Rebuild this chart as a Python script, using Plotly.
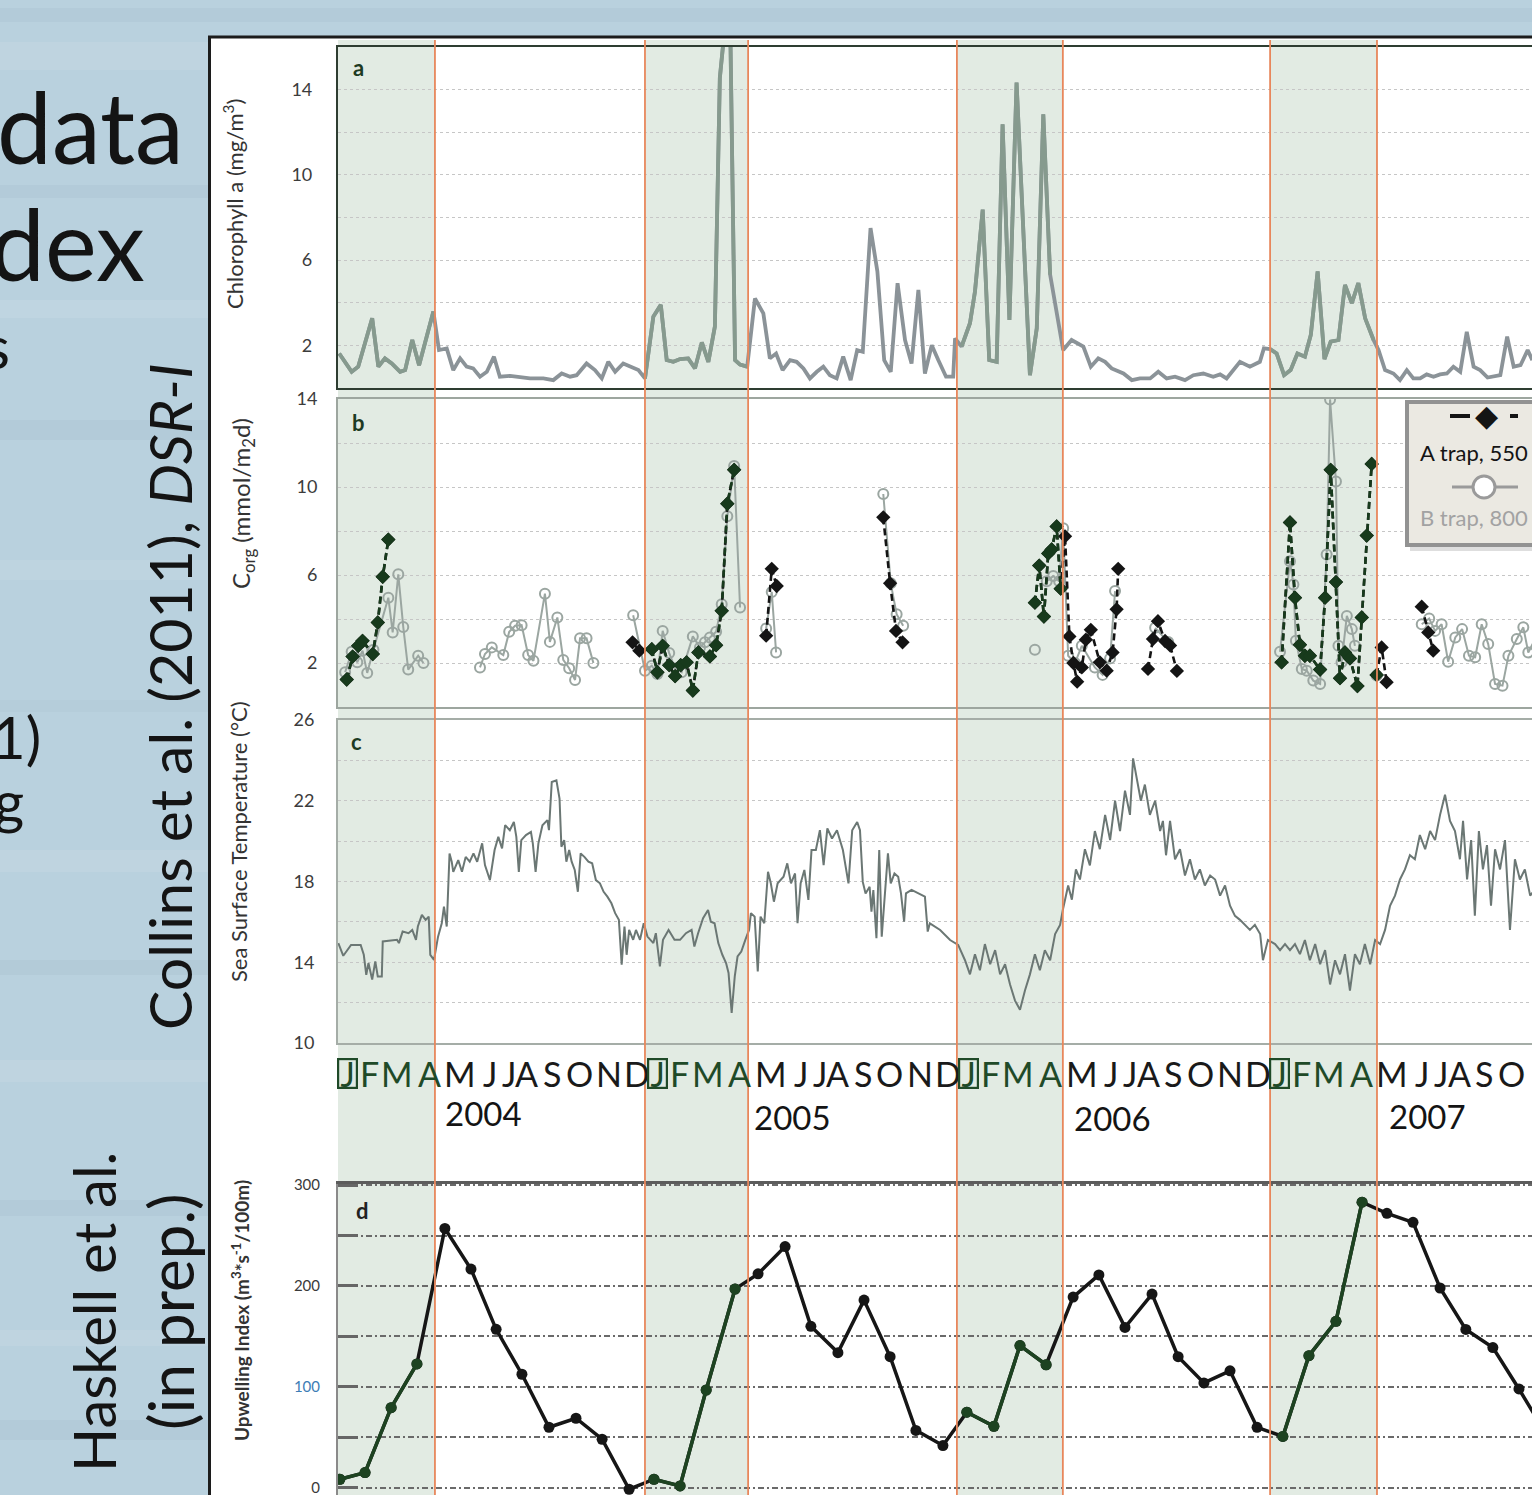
import plotly.graph_objects as go

W, H = 1532, 1495


def px(x):
    return x / W


def py(y):
    return 1 - y / H


# ---------------- data ----------------
shade_start = [2004.0, 2004.988, 2005.992, 2007.0]
shade_end = [2004.312, 2005.320, 2006.333, 2007.344]
years = [2004, 2005, 2006, 2007]
month_letters = ["J", "F", "M", "A", "M", "J", "J", "A", "S", "O", "N", "D"]

chl_t = [2004.004, 2004.044, 2004.065, 2004.110, 2004.130, 2004.151, 2004.173, 2004.200, 2004.216, 2004.239,
         2004.261, 2004.307, 2004.325, 2004.350, 2004.371, 2004.393, 2004.414, 2004.435, 2004.457, 2004.479,
         2004.502, 2004.521, 2004.554, 2004.586, 2004.618, 2004.661, 2004.693, 2004.720, 2004.747, 2004.768,
         2004.800, 2004.827, 2004.849, 2004.870, 2004.892, 2004.918, 2004.950, 2004.967, 2004.988, 2005.015,
         2005.039, 2005.058, 2005.079, 2005.101, 2005.127, 2005.149, 2005.171, 2005.192, 2005.213, 2005.229,
         2005.249, 2005.262, 2005.278, 2005.294, 2005.317, 2005.342, 2005.369, 2005.390, 2005.410, 2005.431,
         2005.455, 2005.476, 2005.498, 2005.519, 2005.541, 2005.562, 2005.583, 2005.605, 2005.626, 2005.650,
         2005.671, 2005.689, 2005.714, 2005.736, 2005.758, 2005.779, 2005.801, 2005.825, 2005.846, 2005.868,
         2005.889, 2005.911, 2005.932, 2005.957, 2005.980, 2005.986, 2006.007, 2006.034, 2006.050, 2006.075,
         2006.096, 2006.120, 2006.139, 2006.161, 2006.184, 2006.206, 2006.227, 2006.249, 2006.270, 2006.292,
         2006.334, 2006.361, 2006.399, 2006.423, 2006.447, 2006.469, 2006.490, 2006.528, 2006.555, 2006.581,
         2006.614, 2006.640, 2006.667, 2006.694, 2006.726, 2006.753, 2006.785, 2006.817, 2006.839, 2006.860,
         2006.903, 2006.935, 2006.967, 2006.980, 2007.000, 2007.021, 2007.045, 2007.066, 2007.088, 2007.112,
         2007.131, 2007.153, 2007.175, 2007.195, 2007.220, 2007.241, 2007.263, 2007.284, 2007.306, 2007.333,
         2007.349, 2007.370, 2007.397, 2007.418, 2007.440, 2007.461, 2007.483, 2007.504, 2007.526, 2007.547,
         2007.569, 2007.590, 2007.612, 2007.633, 2007.655, 2007.676, 2007.700, 2007.741, 2007.763, 2007.784,
         2007.806, 2007.829, 2007.844]
chl_v = [1.62, 0.76, 1.0, 3.27, 1.0, 1.39, 1.15, 0.76, 0.84, 2.25,
         1.07, 3.59, 1.78, 1.86, 0.84, 1.39, 1.0, 0.92, 0.53, 0.76,
         1.47, 0.53, 0.57, 0.53, 0.45, 0.45, 0.37, 0.68, 0.53, 0.6,
         1.15, 0.84, 0.45, 1.23, 0.76, 1.15, 0.92, 0.84, 0.45, 3.35,
         3.9, 1.31, 1.23, 1.36, 1.39, 0.92, 2.14, 1.23, 2.88, 14.56,
         17.5, 17.5, 1.31, 1.1, 1.0, 4.2, 3.5, 1.39, 1.62, 0.84,
         1.31, 1.23, 0.92, 0.45, 0.76, 1.0, 0.6, 0.45, 1.47, 0.37,
         1.78, 1.7, 7.5, 5.47, 1.31, 0.76, 4.92, 2.25, 1.15, 4.6,
         0.68, 2.01, 1.31, 0.53, 0.53, 2.33, 1.94, 3.04, 4.51, 8.37,
         1.31, 1.23, 12.37, 3.19, 14.33, 7.2, 0.6, 2.8, 12.84, 5.32,
         1.78, 2.25, 1.94, 1.0, 1.39, 1.23, 0.92, 0.68, 0.37, 0.45,
         0.45, 0.76, 0.45, 0.53, 0.37, 0.6, 0.68, 0.53, 0.64, 0.45,
         1.23, 1.0, 1.23, 1.86, 1.83, 1.62, 0.6, 0.84, 1.62, 1.47,
         2.49, 5.47, 1.36, 2.17, 2.25, 4.84, 3.98, 4.92, 3.27, 2.25,
         1.78, 0.84, 0.68, 0.37, 0.84, 0.45, 0.45, 0.64, 0.53, 0.64,
         0.68, 1.0, 0.76, 2.64, 1.0, 0.84, 0.49, 0.6, 2.41, 1.0,
         1.07, 1.78, 1.31]

trapA_t = [2004.028, 2004.047, 2004.065, 2004.079, 2004.112, 2004.128, 2004.144, 2004.162, None,
           2004.948, 2004.970, 2005.010, 2005.028, 2005.045, 2005.066, 2005.085, 2005.103, 2005.122, 2005.142,
           2005.160, 2005.197, 2005.217, 2005.235, 2005.253, 2005.275, None,
           2005.378, 2005.396, 2005.412, None,
           2005.755, 2005.777, 2005.796, 2005.817, None,
           2006.243, 2006.257, 2006.272, 2006.286, 2006.297, 2006.313, 2006.326, 2006.340, 2006.354, 2006.367,
           2006.379, 2006.394, 2006.407, 2006.423, 2006.452, 2006.474, 2006.493, 2006.506, 2006.511, None,
           2006.607, 2006.623, 2006.639, 2006.662, 2006.678, 2006.700, None,
           2007.037, 2007.064, 2007.080, 2007.096, 2007.112, 2007.128, 2007.161, 2007.177, 2007.195, 2007.212,
           2007.225, 2007.241, 2007.257, 2007.281, 2007.295, 2007.311, 2007.327, None,
           2007.343, 2007.359, 2007.375, None,
           2007.488, 2007.509, 2007.525]
trapA_v = [1.25, 2.29, 2.78, 3.01, 2.41, 3.84, 5.92, 7.61, None,
           2.94, 2.56, 2.63, 1.58, 2.78, 1.9, 1.4, 1.9, 2.03, 0.75,
           2.48, 2.3, 2.81, 4.37, 9.24, 10.78, None,
           3.24, 6.28, 5.5, None,
           8.62, 5.62, 3.46, 2.94, None,
           4.74, 6.43, 4.11, 6.98, 7.16, 8.21, 5.38, 7.76, 3.21, 2.0,
           1.15, 1.8, 3.06, 3.51, 2.03, 1.65, 2.48, 4.44, 6.28, None,
           1.73, 3.09, 3.9, 3.0, 2.8, 1.64, None,
           2.03, 8.39, 4.97, 2.83, 2.33, 2.33, 1.7, 4.97, 10.78, 5.68,
           1.31, 2.48, 2.21, 0.95, 4.07, 7.79, 11.05, None,
           1.46, 2.71, 1.13, None,
           4.56, 3.39, 2.56]

trapB_t = [2004.023, 2004.044, 2004.062, 2004.079, 2004.094, 2004.114, 2004.162, 2004.176, 2004.194, 2004.210,
           2004.226, 2004.258, 2004.275, None,
           2004.457, 2004.473, 2004.495, 2004.532, 2004.551, 2004.570, 2004.591, 2004.612, 2004.629, 2004.666,
           2004.682, 2004.706, 2004.725, 2004.744, 2004.763, 2004.779, 2004.800, 2004.822, None,
           2004.950, 2004.988, 2005.010, 2005.028, 2005.045, 2005.066, 2005.085, 2005.106, 2005.142, 2005.165,
           2005.181, 2005.197, 2005.217, 2005.235, 2005.253, 2005.275, 2005.294, None,
           2005.378, 2005.396, 2005.410, None,
           2005.755, 2005.779, 2005.798, 2005.819, None,
           2006.243, None,
           2006.281, 2006.302, 2006.321, 2006.334, 2006.350, 2006.372, 2006.394, 2006.436, 2006.461, 2006.485,
           2006.501, None,
           2006.630, 2006.672, None,
           2007.032, 2007.064, 2007.075, 2007.083, 2007.102, 2007.118, 2007.139, 2007.161, 2007.182, 2007.193,
           2007.212, 2007.220, 2007.230, 2007.247, 2007.263, 2007.273, None,
           2007.343, None,
           2007.488, 2007.512, 2007.531, 2007.552, 2007.573, 2007.596, 2007.618, 2007.640, 2007.660, 2007.681,
           2007.702, 2007.724, 2007.748, 2007.767, 2007.794, 2007.815, 2007.831, 2007.868]
trapB_v = [1.58, 2.51, 2.03, 2.56, 1.55, 2.6, 4.97, 3.39, 6.03, 3.64,
           1.7, 2.33, 2.0, None,
           1.8, 2.41, 2.71, 2.36, 3.42, 3.69, 3.72, 2.36, 2.1, 5.15,
           2.96, 4.07, 2.14, 1.76, 1.23, 3.12, 3.12, 2.0, None,
           4.17, 1.65, 1.88, 1.5, 3.46, 2.45, 1.76, 1.58, 3.21, 2.71,
           2.94, 3.16, 3.42, 4.67, 8.67, 10.96, 4.52, None,
           3.57, 5.23, 2.48, None,
           9.68, 5.62, 4.22, 3.69, None,
           2.6, None,
           5.72, 5.95, 5.72, 8.13, 2.33, 2.0, 2.78, 1.8, 1.46, 2.21,
           5.27, None,
           3.6, 2.95, None,
           2.51, 6.63, 5.57, 3.01, 1.73, 1.65, 1.2, 1.05, 6.93, 13.98,
           10.25, 2.78, 2.03, 4.14, 3.54, 2.78, None,
           1.43, None,
           3.76, 4.02, 3.46, 3.76, 2.06, 3.16, 3.54, 2.33, 2.26, 3.76,
           2.86, 1.05, 0.97, 2.33, 3.09, 3.62, 2.48, 3.5]

sst_t = [2004.001, 2004.017, 2004.042, 2004.073, 2004.083, 2004.091, 2004.098, 2004.110, 2004.120, 2004.128,
         2004.141, 2004.144, 2004.190, 2004.196, 2004.208, 2004.227, 2004.239, 2004.251, 2004.257, 2004.270,
         2004.282, 2004.292, 2004.297, 2004.309, 2004.322, 2004.334, 2004.341, 2004.350, 2004.359, 2004.366,
         2004.371, 2004.387, 2004.399, 2004.411, 2004.424, 2004.436, 2004.448, 2004.464, 2004.473, 2004.489,
         2004.504, 2004.516, 2004.528, 2004.538, 2004.553, 2004.566, 2004.574, 2004.582, 2004.590, 2004.605,
         2004.621, 2004.627, 2004.636, 2004.645, 2004.658, 2004.674, 2004.679, 2004.688, 2004.703, 2004.713,
         2004.719, 2004.728, 2004.735, 2004.744, 2004.752, 2004.762, 2004.772, 2004.781, 2004.793, 2004.806,
         2004.818, 2004.830, 2004.843, 2004.855, 2004.867, 2004.880, 2004.892, 2004.904, 2004.913, 2004.922,
         2004.929, 2004.937, 2004.950, 2004.959, 2004.972, 2004.984, 2004.996, 2005.015, 2005.023, 2005.036,
         2005.046, 2005.064, 2005.083, 2005.101, 2005.120, 2005.138, 2005.147, 2005.159, 2005.175, 2005.191,
         2005.200, 2005.212, 2005.224, 2005.237, 2005.249, 2005.257, 2005.267, 2005.277, 2005.286, 2005.298,
         2005.311, 2005.323, 2005.329, 2005.341, 2005.351, 2005.360, 2005.372, 2005.384, 2005.393, 2005.403,
         2005.415, 2005.434, 2005.446, 2005.458, 2005.471, 2005.479, 2005.489, 2005.501, 2005.514, 2005.524,
         2005.538, 2005.551, 2005.563, 2005.575, 2005.590, 2005.606, 2005.625, 2005.643, 2005.655, 2005.671,
         2005.680, 2005.689, 2005.698, 2005.711, 2005.717, 2005.723, 2005.733, 2005.742, 2005.750, 2005.760,
         2005.770, 2005.779, 2005.791, 2005.803, 2005.812, 2005.822, 2005.828, 2005.846, 2005.871, 2005.889,
         2005.898, 2005.905, 2005.938, 2005.970, 2005.996, 2006.018, 2006.034, 2006.050, 2006.066, 2006.082,
         2006.099, 2006.115, 2006.131, 2006.147, 2006.163, 2006.179, 2006.195, 2006.211, 2006.227, 2006.243,
         2006.259, 2006.275, 2006.292, 2006.308, 2006.324, 2006.333, 2006.350, 2006.362, 2006.375, 2006.388,
         2006.404, 2006.420, 2006.436, 2006.452, 2006.469, 2006.485, 2006.501, 2006.517, 2006.533, 2006.549,
         2006.559, 2006.572, 2006.584, 2006.597, 2006.613, 2006.630, 2006.646, 2006.655, 2006.665, 2006.678,
         2006.694, 2006.710, 2006.726, 2006.742, 2006.758, 2006.774, 2006.790, 2006.807, 2006.823, 2006.839,
         2006.855, 2006.871, 2006.887, 2006.903, 2006.919, 2006.935, 2006.951, 2006.968, 2006.977, 2006.993,
         2007.016, 2007.032, 2007.048, 2007.064, 2007.080, 2007.096, 2007.112, 2007.128, 2007.145, 2007.161,
         2007.177, 2007.193, 2007.209, 2007.225, 2007.241, 2007.257, 2007.273, 2007.289, 2007.305, 2007.322,
         2007.338, 2007.354, 2007.370, 2007.386, 2007.402, 2007.418, 2007.434, 2007.450, 2007.466, 2007.482,
         2007.499, 2007.515, 2007.531, 2007.547, 2007.563, 2007.579, 2007.595, 2007.611, 2007.621, 2007.634,
         2007.647, 2007.659, 2007.672, 2007.685, 2007.698, 2007.711, 2007.724, 2007.740, 2007.756, 2007.772,
         2007.788, 2007.804, 2007.820, 2007.837, 2007.853]
sst_v = [14.95, 14.32, 14.86, 14.86, 14.37, 13.38, 13.96, 13.14, 14.04, 13.3,
         13.3, 15.03, 15.11, 14.95, 15.52, 15.44, 15.6, 15.11, 15.77, 16.35,
         16.1, 16.26, 14.37, 14.12, 15.27, 15.93, 16.76, 15.77, 19.39, 18.98,
         18.48, 19.06, 18.48, 19.22, 18.98, 19.39, 18.98, 19.89, 18.81, 18.07,
         19.56, 20.21, 19.64, 20.79, 20.54, 20.95, 20.21, 18.48, 20.05, 20.3,
         20.46, 19.89, 18.48, 19.89, 20.79, 21.04, 20.54, 22.93, 23.01, 22.11,
         19.72, 20.05, 18.98, 19.56, 18.98, 18.57, 17.49, 19.39, 19.22, 18.98,
         18.9, 18.07, 17.91, 17.49, 17.25, 16.92, 16.43, 16.1, 13.88, 15.77,
         14.37, 15.6, 15.11, 15.6, 15.11, 15.93, 15.27, 14.95, 15.44, 13.79,
         15.11, 15.6, 15.11, 15.11, 15.44, 15.6, 14.78, 15.44, 16.18, 16.59,
         16.01, 15.93, 14.95, 14.37, 13.96, 13.47, 11.49, 13.3, 14.29, 14.53,
         15.11, 15.6, 16.43, 16.26, 13.55, 16.26, 15.93, 18.48, 17.91, 17.0,
         17.91, 18.24, 18.9, 17.91, 18.4, 15.93, 17.91, 18.57, 17.09, 19.56,
         19.56, 20.54, 18.81, 20.63, 20.13, 20.54, 19.56, 17.91, 20.54, 20.95,
         20.54, 17.98, 17.41, 17.74, 16.51, 17.58, 15.19, 19.56, 15.27, 17.58,
         19.39, 17.91, 18.4, 18.24, 17.41, 16.01, 17.41, 17.58, 17.41, 17.25,
         15.52, 15.93, 15.6, 15.1, 14.86, 14.1, 13.4, 14.4, 13.6, 14.9,
         13.9, 14.6, 13.4, 13.9, 12.9, 12.1, 11.65, 12.6, 13.4, 14.4,
         13.6, 14.6, 14.1, 15.4, 15.85, 16.6, 17.8, 17.1, 18.6, 18.1,
         19.6, 18.8, 20.5, 19.6, 21.3, 20.05, 22.0, 20.5, 22.5, 21.3,
         24.1, 23.0, 22.0, 22.8, 21.3, 22.0, 20.5, 21.0, 19.3, 21.0,
         19.1, 19.6, 18.3, 19.1, 18.1, 18.6, 17.8, 18.3, 18.1, 17.3,
         17.8, 16.8, 16.3, 16.1, 15.85, 15.6, 15.85, 15.4, 14.1, 15.1,
         14.9, 14.6, 14.9, 14.6, 14.9, 14.4, 15.1, 14.1, 14.9, 13.9,
         14.6, 12.9, 14.1, 13.4, 14.4, 12.6, 14.4, 13.9, 14.9, 13.9,
         15.1, 14.9, 15.6, 16.8, 17.3, 18.1, 18.6, 19.3, 19.1, 20.3,
         19.6, 20.5, 20.05, 21.3, 22.3, 21.0, 20.5, 19.1, 21.0, 18.1,
         20.05, 16.3, 20.5, 18.6, 19.8, 16.8, 19.6, 18.6, 20.05, 15.6,
         19.1, 18.1, 18.6, 17.3, 17.6]

upw_t = [2004.006, 2004.087, 2004.171, 2004.254, 2004.344, 2004.428, 2004.509, 2004.592, 2004.679, 2004.766,
         2004.850, 2004.937, 2005.017, 2005.101, 2005.185, 2005.278, 2005.352, 2005.439, 2005.522, 2005.609,
         2005.693, 2005.777, 2005.860, 2005.947, 2006.024, 2006.111, 2006.195, 2006.279, 2006.366, 2006.449,
         2006.533, 2006.620, 2006.704, 2006.787, 2006.871, 2006.958, 2007.041, 2007.125, 2007.212, 2007.296,
         2007.376, 2007.460, 2007.547, 2007.630, 2007.717, 2007.801, 2007.885]
upw_v = [8.6, 15.2, 79.5, 122.8, 257, 216.8, 157.1, 112.6, 60.1, 69,
         48.2, -1.3, 8.6, 2, 97, 197, 212, 239, 160, 134,
         186, 130, 57, 42, 75, 61, 141, 122, 189, 211,
         159, 192, 130, 104, 116, 60, 51, 131, 165, 283,
         272, 263, 198, 157, 139, 98, 55]


# ---------------- helpers ----------------
def in_shade(t):
    return t is not None and any(s <= t <= e for s, e in zip(shade_start, shade_end))


def shade_only(ts, vs):
    return [v if in_shade(t) else None for t, v in zip(ts, vs)]


fig = go.Figure()

# Panel a: chlorophyll
fig.add_trace(go.Scatter(x=chl_t, y=chl_v, mode="lines", line=dict(color="#8b9398", width=3.8),
                         xaxis="x", yaxis="y", hoverinfo="skip"))
fig.add_trace(go.Scatter(x=chl_t, y=shade_only(chl_t, chl_v), mode="lines",
                         line=dict(color="#869a8e", width=3.8), xaxis="x", yaxis="y", hoverinfo="skip"))

# Panel b: traps
fig.add_trace(go.Scatter(x=trapB_t, y=trapB_v, mode="lines+markers",
                         line=dict(color="#9ba6a1", width=2),
                         marker=dict(symbol="circle-open", size=10, color="#9ba6a1", line=dict(width=2)),
                         xaxis="x2", yaxis="y2", hoverinfo="skip"))
fig.add_trace(go.Scatter(x=trapA_t, y=trapA_v, mode="lines+markers",
                         line=dict(color="#141414", width=2.6, dash="7px,4px"),
                         marker=dict(symbol="diamond", size=11, color="#141414"),
                         xaxis="x2", yaxis="y2", hoverinfo="skip"))
fig.add_trace(go.Scatter(x=trapA_t, y=shade_only(trapA_t, trapA_v), mode="lines+markers",
                         line=dict(color="#173a1c", width=2.6, dash="7px,4px"),
                         marker=dict(symbol="diamond", size=11, color="#173a1c"),
                         xaxis="x2", yaxis="y2", hoverinfo="skip"))

# Panel c: SST
fig.add_trace(go.Scatter(x=sst_t, y=sst_v, mode="lines", line=dict(color="#6b7774", width=2),
                         xaxis="x3", yaxis="y3", hoverinfo="skip"))

# Panel d: upwelling
fig.add_trace(go.Scatter(x=upw_t, y=upw_v, mode="lines+markers",
                         line=dict(color="#161616", width=3.5),
                         marker=dict(size=11, color="#161616"),
                         xaxis="x4", yaxis="y4", hoverinfo="skip"))
fig.add_trace(go.Scatter(x=upw_t, y=shade_only(upw_t, upw_v), mode="lines+markers",
                         line=dict(color="#1d4321", width=3.5),
                         marker=dict(size=11, color="#1d4321"),
                         xaxis="x4", yaxis="y4", hoverinfo="skip"))

# ---------------- axes ----------------
X_RANGE = [2004.0, 2004.0 + 1194 / 310.7]
xbase = dict(range=X_RANGE, domain=[px(338), 1.0], showgrid=False, zeroline=False,
             showticklabels=False, ticks="", showline=True, mirror=True, fixedrange=True,
             automargin=False)
tickfont = dict(family="Lato", size=18, color="#3c3c3c")
gridbase = dict(showgrid=True, gridcolor="#c6c6c6", gridwidth=1.3, griddash="dot",
                zeroline=False, ticks="", showline=True, tickfont=tickfont, automargin=False,
                ticklabeloverflow="allow")

layout_axes = dict(
    xaxis=dict(xbase, anchor="y", linecolor="#2e3d31", linewidth=2.2),
    xaxis2=dict(xbase, anchor="y2", matches="x", linecolor="#9da69f", linewidth=2),
    xaxis3=dict(xbase, anchor="y3", matches="x", linecolor="#a5ada7", linewidth=2),
    xaxis4=dict(xbase, anchor="y4", matches="x", linecolor="#5c5c5c", linewidth=2.5),
    yaxis=dict(gridbase, anchor="x", domain=[py(388), py(47)], range=[0, 16],
               tickmode="array", tickvals=[2, 6, 10, 14], linecolor="#2e3d31", linewidth=2.2,
               ticklabelstandoff=20,
               minor=dict(tickmode="array", tickvals=[4, 8, 12], showgrid=True, gridcolor="#c6c6c6",
                          gridwidth=1.3, griddash="dot")),
    yaxis2=dict(gridbase, anchor="x2", domain=[py(707), py(399)], range=[0, 14],
                tickmode="array", tickvals=[2, 6, 10, 14], linecolor="#9da69f", linewidth=2,
                ticklabelstandoff=15,
                minor=dict(tickmode="array", tickvals=[4, 8, 12], showgrid=True, gridcolor="#c6c6c6",
                           gridwidth=1.3, griddash="dot")),
    yaxis3=dict(gridbase, anchor="x3", domain=[py(1043), py(720)], range=[10, 26],
                tickmode="array", tickvals=[10, 14, 18, 22, 26], linecolor="#a5ada7", linewidth=2,
                ticklabelstandoff=18,
                minor=dict(tickmode="array", tickvals=[12, 16, 20, 24], showgrid=True, gridcolor="#c6c6c6",
                           gridwidth=1.3, griddash="dot")),
    yaxis4=dict(anchor="x4", domain=[0, py(1184)], range=[-7, 301], zeroline=False, automargin=False,
                ticklabeloverflow="allow",
                showline=True, linecolor="#8a8a8a", linewidth=2,
                tickmode="array", tickvals=[0, 100, 200, 300],
                ticktext=["0", "<span style='color:#3d7db5'>100</span>", "200", "300"],
                tickfont=dict(family="Lato", size=15, color="#3a3a3a"),
                ticks="inside", ticklen=20, tickwidth=3, tickcolor="#666666",
                ticklabelstandoff=13,
                showgrid=True, gridcolor="#6a6a6a", gridwidth=1.5, griddash="6px,3px,2px,3px",
                minor=dict(tickmode="array", tickvals=[50, 150, 250], showgrid=True, gridcolor="#6a6a6a",
                           gridwidth=1.5, griddash="6px,3px,2px,3px", ticks="inside", ticklen=20,
                           tickwidth=3, tickcolor="#666666")),
)

# ---------------- shapes ----------------
shapes = []
# watery background streaks
streaks = [(8, 22, "#a9c3d1"), (42, 70, "#c7dae4"), (185, 198, "#aac4d2"), (300, 318, "#c9dbe5"),
           (420, 440, "#aac3d1"), (560, 580, "#c6d9e3"), (700, 712, "#aec7d4"), (850, 872, "#c8dae4"),
           (960, 975, "#a9c2d0"), (1060, 1082, "#c7d9e3"), (1200, 1216, "#abc4d2"), (1330, 1346, "#c8dae4"),
           (1420, 1440, "#a9c3d1")]
for y0, y1, c in streaks:
    shapes.append(dict(type="rect", xref="paper", yref="paper", x0=0, x1=1, y0=py(y1), y1=py(y0),
                       fillcolor=c, line=dict(width=0), layer="below", opacity=0.4))
# white panel
shapes.append(dict(type="rect", xref="paper", yref="paper", x0=px(209), x1=1, y0=0, y1=py(37),
                   fillcolor="white", line=dict(width=0), layer="below"))
# seasonal shading
for s, e in zip(shade_start, shade_end):
    shapes.append(dict(type="rect", xref="x", yref="paper", x0=s, x1=e, y0=0, y1=py(40),
                       fillcolor="#e2ebe3", line=dict(width=0), layer="below"))
# orange boundary lines
for i, (s, e) in enumerate(zip(shade_start, shade_end)):
    for xv in ([e] if i == 0 else [s, e]):
        shapes.append(dict(type="line", xref="x", yref="paper", x0=xv, x1=xv, y0=0, y1=py(40),
                           line=dict(color="#e8875c", width=1.8), layer="above"))
# black border of the figure panel
shapes.append(dict(type="line", xref="paper", yref="paper", x0=px(208), x1=1, y0=py(37), y1=py(37),
                   line=dict(color="#1c1c1c", width=3), layer="above"))
shapes.append(dict(type="line", xref="paper", yref="paper", x0=px(209.5), x1=px(209.5), y0=0, y1=py(36),
                   line=dict(color="#1c1c1c", width=3), layer="above"))
# legend box in panel b
shapes.append(dict(type="rect", xref="paper", yref="paper", x0=px(1410), x1=px(1545), y0=py(551), y1=py(405),
                   fillcolor="rgba(0,0,0,0.13)", line=dict(width=0), layer="above"))
shapes.append(dict(type="rect", xref="paper", yref="paper", x0=px(1407), x1=px(1545), y0=py(545), y1=py(402),
                   fillcolor="#ebe9e2", line=dict(color="#929292", width=4), layer="above"))
shapes.append(dict(type="line", xref="paper", yref="paper", x0=px(1450), x1=px(1470), y0=py(416), y1=py(416),
                   line=dict(color="#141414", width=4), layer="above"))
shapes.append(dict(type="line", xref="paper", yref="paper", x0=px(1510), x1=px(1518), y0=py(416), y1=py(416),
                   line=dict(color="#141414", width=4), layer="above"))
shapes.append(dict(type="line", xref="paper", yref="paper", x0=px(1452), x1=px(1518), y0=py(487), y1=py(487),
                   line=dict(color="#9a9a9a", width=3), layer="above"))
shapes.append(dict(type="circle", xref="paper", yref="paper", xsizemode="pixel", ysizemode="pixel",
                   xanchor=px(1484), yanchor=py(487), x0=-11, x1=11, y0=-11, y1=11,
                   fillcolor="white", line=dict(color="#9a9a9a", width=3), layer="above"))

# ---------------- annotations ----------------
ann = []


def A(text, x, y, size, color="#141414", family="Lato", xanchor="center", yanchor="middle",
      angle=0, xref="paper", **kw):
    ann.append(dict(text=text, x=x, y=y, xref=xref, yref="paper", showarrow=False,
                    font=dict(family=family, size=size, color=color), xanchor=xanchor,
                    yanchor=yanchor, textangle=angle, **kw))


# slide text on the left
A("data", px(186), py(126), 98, xanchor="right")
A("dex", px(147), py(243), 98, xanchor="right")
A("s", px(12), py(346), 60, xanchor="right")
A("1)", px(43), py(736), 58, xanchor="right")
A("g", px(26), py(800), 58, xanchor="right")
A("Collins et al. (2011), <i>DSR-I</i>", px(170), py(697), 59, angle=-90)
A("Haskell et al.", px(93), py(1312), 58, angle=-90)
A("(in prep.)", px(170), py(1312), 62, angle=-90)

# axis titles
A("Chlorophyll a (mg/m<sup>3</sup>)", px(233), py(204), 22, color="#333333", angle=-90)
A("C<sub>org</sub> (mmol/m<sub>2</sub>d)", px(243), py(503), 24, color="#333333", angle=-90)
A("Sea Surface Temperature (°C)", px(238), py(842), 22, color="#333333", angle=-90)
A("<b>Upwelling Index (m<sup>3</sup>*s<sup>-1</sup>/100m)</b>", px(240), py(1311), 19,
  color="#333333", angle=-90)

# panel letters
A("<b>a</b>", px(358), py(67), 22, color="#1d3a22")
A("<b>b</b>", px(358), py(422), 22, color="#1d3a22")
A("<b>c</b>", px(356), py(741), 22, color="#1d3a22")
A("<b>d</b>", px(362), py(1210), 22, color="#222222")

# legend texts
A("◆", px(1486), py(416), 30, color="#141414", family="DejaVu Sans")
A("A trap, 550 m", px(1418), py(452), 22, color="#141414", xanchor="left")
A("B trap, 800 m", px(1418), py(517), 22, color="#a2a2a2", xanchor="left")

# month letters and years
month_offsets = [0.029, 0.100, 0.190, 0.293, 0.393, 0.489, 0.550, 0.608, 0.689, 0.776, 0.872, 0.962]
year_offsets = [0.467, 0.464, 0.494, 0.505]
year_y = [1113, 1117, 1118, 1116]
for yi, yr in enumerate(years):
    for mi, (letter, off) in enumerate(zip(month_letters, month_offsets)):
        xv = yr + off
        if xv > X_RANGE[1] - 0.01:
            continue
        col = "#1f4a28" if mi < 4 else "#1a1a1a"
        extra = {}
        if mi == 0:
            extra = dict(bordercolor="#1f4a28", borderwidth=2.2, borderpad=0, width=17, height=27)
        A(letter, xv, py(1073), 34, color=col, xref="x", **extra)
    A(str(yr), yr + year_offsets[yi], py(year_y[yi]), 33, color="#141414", xref="x")

fig.update_layout(
    width=W, height=H, margin=dict(l=0, r=0, t=0, b=0, autoexpand=False),
    paper_bgcolor="#b9d1de", plot_bgcolor="rgba(0,0,0,0)",
    showlegend=False, shapes=shapes, annotations=ann,
    **layout_axes,
)

fig.write_html("out.html")
